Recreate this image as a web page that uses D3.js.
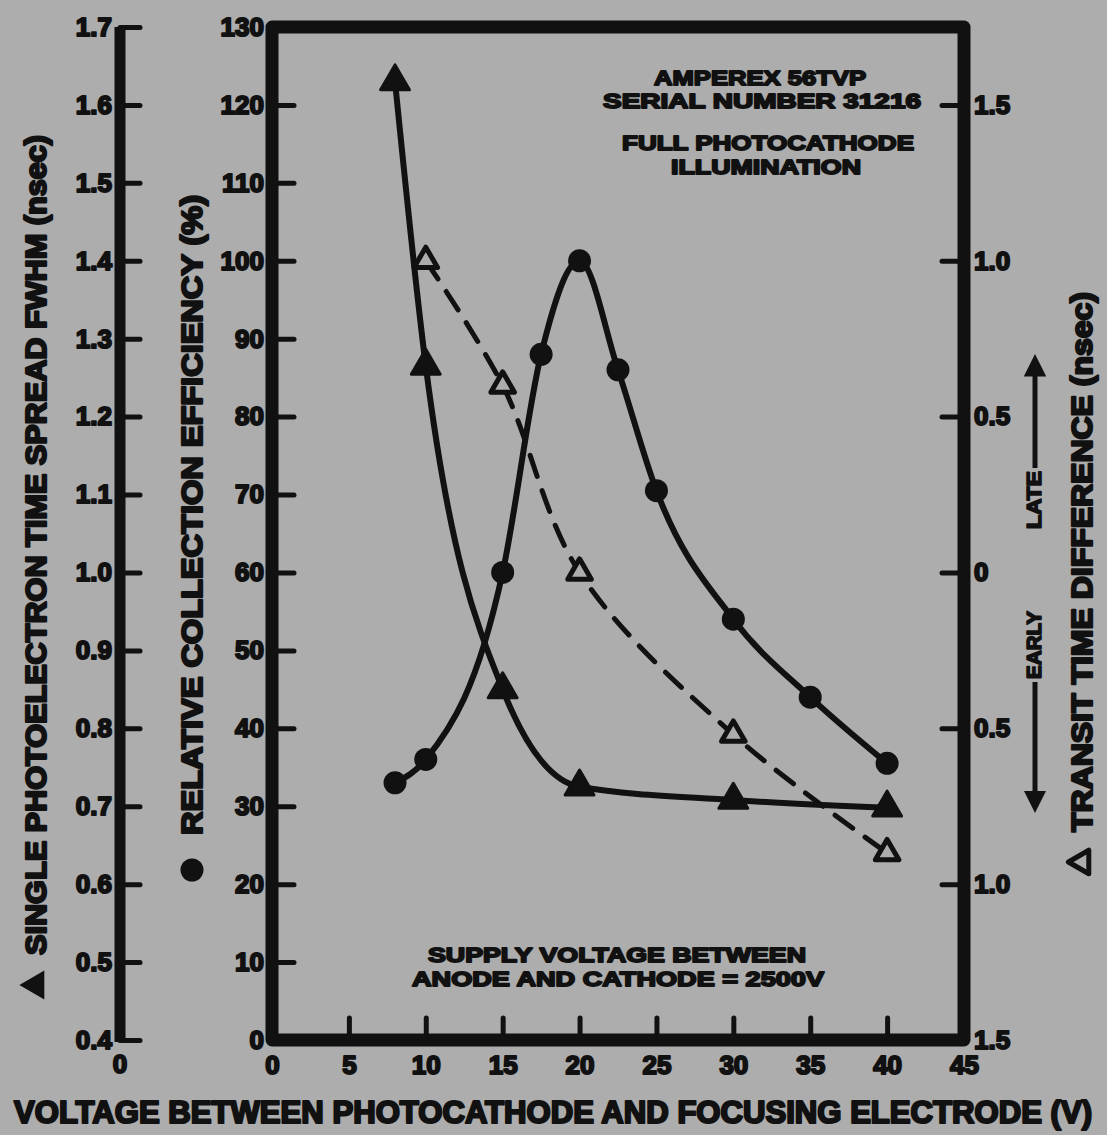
<!DOCTYPE html>
<html>
<head>
<meta charset="utf-8">
<script src="https://cdn.jsdelivr.net/npm/d3@7"></script>
<style>
  html, body { margin: 0; padding: 0; background: #adadad; }
  svg { display: block; }
  .ink { font-family: "Liberation Sans", Arial, sans-serif; font-weight: bold; fill: #111; stroke: #111; stroke-linejoin: round; }
</style>
</head>
<body>
<div id="chart"></div>
<script>
// voltage between photocathode and focusing electrode (V)
const effVolts = [8, 10, 15, 17.5, 20, 22.5, 25, 30, 35, 40];
const effPct = [33, 36, 60, 88, 100, 86, 70.5, 54, 44, 35.5];

const fwhmVolts = [8, 10, 15, 20, 30, 40];
const fwhmNs = [1.63, 1.265, 0.85, 0.725, 0.708, 0.698];

const transitVolts = [10, 15, 20, 30, 40];
const transitNs = [1.0, 0.6, 0.0, -0.52, -0.9];

const xTicks = [0, 5, 10, 15, 20, 25, 30, 35, 40, 45];
const effTicks = d3.range(0, 131, 10);
const fwhmTicks = [0.4, 0.5, 0.6, 0.7, 0.8, 0.9, 1.0, 1.1, 1.2, 1.3, 1.4, 1.5, 1.6, 1.7];
const transitTicks = [-1.5, -1.0, -0.5, 0, 0.5, 1.0, 1.5];

const width = 1107, height = 1135;
const ink = "#111";
const bg = "#adadad";

const svg = d3.select("#chart").append("svg")
    .attr("width", width)
    .attr("height", height)
    .attr("viewBox", [0, 0, width, height]);

svg.append("rect").attr("width", width).attr("height", height).attr("fill", bg);

// plot frame
const plotL = 272, plotR = 964, plotT = 27, plotB = 1040;
const leftAxisX = 120;

const x = d3.scaleLinear().domain([0, 45]).range([plotL, plotR]);
const yEff = d3.scaleLinear().domain([0, 130]).range([plotB, plotT]);
const yFwhm = d3.scaleLinear().domain([0.4, 1.7]).range([plotB, plotT]);
const yTransit = d3.scaleLinear().domain([-1.5, 1.75]).range([plotB, plotT]);

function styleAxis(g) {
    g.select(".domain").remove();
    g.selectAll(".tick line").attr("stroke", ink).attr("stroke-width", 5).attr("stroke-linecap", "round");
    g.selectAll(".tick text")
        .attr("class", "ink")
        .attr("fill", null)
        .style("font-size", "26px")
        .style("stroke-width", "2px");
}

// x axis, ticks inward
const xAxis = svg.append("g")
    .attr("transform", `translate(0,${plotB})`)
    .call(d3.axisBottom(x).tickValues(xTicks).tickSizeInner(-22).tickSizeOuter(0).tickPadding(16).tickFormat(d3.format("d")));
styleAxis(xAxis);

// efficiency axis (frame left)
const effAxis = svg.append("g")
    .attr("transform", `translate(${plotL},0)`)
    .call(d3.axisLeft(yEff).tickValues(effTicks).tickSizeInner(-22).tickSizeOuter(0).tickPadding(8).tickFormat(d3.format("d")));
styleAxis(effAxis);

// transit time axis (frame right)
const trAxis = svg.append("g")
    .attr("transform", `translate(${plotR},0)`)
    .call(d3.axisRight(yTransit).tickValues(transitTicks).tickSizeInner(-22).tickSizeOuter(0).tickPadding(10)
        .tickFormat(d => d === 0 ? "0" : d3.format(".1f")(Math.abs(d))));
styleAxis(trAxis);

// FWHM axis, separate line on the far left
const fwAxis = svg.append("g")
    .attr("transform", `translate(${leftAxisX},0)`)
    .call(d3.axisLeft(yFwhm).tickValues(fwhmTicks).tickSizeInner(-20).tickSizeOuter(0).tickPadding(8).tickFormat(d3.format(".1f")));
styleAxis(fwAxis);
svg.append("line")
    .attr("x1", leftAxisX).attr("x2", leftAxisX)
    .attr("y1", plotT).attr("y2", plotB + 2)
    .attr("stroke", ink).attr("stroke-width", 11);

svg.append("text").attr("class", "ink")
    .attr("x", leftAxisX).attr("y", plotB + 33)
    .attr("text-anchor", "middle")
    .style("font-size", "26px").style("stroke-width", "2px")
    .text("0");

// frame
svg.append("rect")
    .attr("x", plotL).attr("y", plotT)
    .attr("width", plotR - plotL).attr("height", plotB - plotT)
    .attr("fill", "none").attr("stroke", ink)
    .attr("stroke-width", 13).attr("stroke-linejoin", "round");

// curves
const effData = effVolts.map((v, i) => ({ x: v, y: effPct[i] }));
const fwhmData = fwhmVolts.map((v, i) => ({ x: v, y: fwhmNs[i] }));
const trData = transitVolts.map((v, i) => ({ x: v, y: transitNs[i] }));

const plot = svg.append("g");

plot.append("path")
    .datum(trData)
    .attr("fill", "none").attr("stroke", ink).attr("stroke-width", 5)
    .attr("stroke-dasharray", "22,15").attr("stroke-linecap", "round")
    .attr("d", d3.line().x(d => x(d.x)).y(d => yTransit(d.y)).curve(d3.curveCatmullRom.alpha(0.5)));

plot.append("path")
    .datum(fwhmData)
    .attr("fill", "none").attr("stroke", ink).attr("stroke-width", 6)
    .attr("d", d3.line().x(d => x(d.x)).y(d => yFwhm(d.y)).curve(d3.curveMonotoneX));

plot.append("path")
    .datum(effData)
    .attr("fill", "none").attr("stroke", ink).attr("stroke-width", 6)
    .attr("d", d3.line().x(d => x(d.x)).y(d => yEff(d.y)).curve(d3.curveMonotoneX));

const triFilled = d3.symbol().type(d3.symbolTriangle).size(360);
const triOpen = d3.symbol().type(d3.symbolTriangle).size(240);

plot.selectAll("path.tr").data(trData).join("path")
    .attr("class", "tr")
    .attr("transform", d => `translate(${x(d.x)},${yTransit(d.y)})`)
    .attr("d", triOpen())
    .attr("fill", bg).attr("stroke", ink).attr("stroke-width", 5).attr("stroke-linejoin", "round");

plot.selectAll("path.fw").data(fwhmData).join("path")
    .attr("class", "fw")
    .attr("transform", d => `translate(${x(d.x)},${yFwhm(d.y)})`)
    .attr("d", triFilled())
    .attr("fill", ink).attr("stroke", ink).attr("stroke-width", 3).attr("stroke-linejoin", "round");

plot.selectAll("circle.eff").data(effData).join("circle")
    .attr("class", "eff")
    .attr("cx", d => x(d.x)).attr("cy", d => yEff(d.y))
    .attr("r", 11.5).attr("fill", ink);

// text helpers
function label(sel, txt, px, py, size, opts = {}) {
    const t = sel.append("text").attr("class", "ink")
        .attr("transform", `translate(${px},${py})` + (opts.rotate ? ` rotate(${opts.rotate})` : ""))
        .attr("text-anchor", opts.anchor || "middle")
        .attr("dominant-baseline", "central")
        .style("font-size", size + "px")
        .style("stroke-width", (opts.sw || 1.8) + "px")
        .text(txt);
    if (opts.len) t.attr("textLength", opts.len).attr("lengthAdjust", "spacingAndGlyphs");
    return t;
}

// annotations inside plot
label(svg, "AMPEREX 56TVP", 760, 77, 21, { len: 212 });
label(svg, "SERIAL NUMBER 31216", 762, 100, 21, { len: 318 });
label(svg, "FULL PHOTOCATHODE", 768, 142, 21, { len: 292 });
label(svg, "ILLUMINATION", 766, 166, 21, { len: 190 });

label(svg, "SUPPLY VOLTAGE BETWEEN", 617, 954, 21, { len: 378 });
label(svg, "ANODE AND CATHODE = 2500V", 618, 978, 21, { len: 412 });

// x title
label(svg, "VOLTAGE BETWEEN PHOTOCATHODE AND FOCUSING ELECTRODE (V)", 553, 1112, 31, { len: 1078, sw: 2.2 });

// left title with filled triangle legend
svg.append("path")
    .attr("transform", "translate(36,985) rotate(-90)")
    .attr("d", triFilled()).attr("fill", ink);
label(svg, "SINGLE PHOTOELECTRON TIME SPREAD FWHM (nsec)", 36, 545, 29, { rotate: -90, len: 820, sw: 2.2 });

// efficiency title with circle legend
svg.append("circle").attr("cx", 192).attr("cy", 870).attr("r", 11.5).attr("fill", ink);
label(svg, "RELATIVE COLLECTION EFFICIENCY (%)", 192, 515, 29, { rotate: -90, len: 640, sw: 2.2 });

// right title with open triangle legend
svg.append("path")
    .attr("transform", "translate(1082,862) rotate(-90)")
    .attr("d", triOpen())
    .attr("fill", bg).attr("stroke", ink).attr("stroke-width", 5).attr("stroke-linejoin", "round");
label(svg, "TRANSIT TIME DIFFERENCE (nsec)", 1082, 562, 29, { rotate: -90, len: 540, sw: 2.2 });

// LATE / EARLY arrows
svg.append("defs").append("marker")
    .attr("id", "head")
    .attr("viewBox", "0 0 10 10")
    .attr("refX", 2).attr("refY", 5)
    .attr("markerWidth", 4.5).attr("markerHeight", 4.5)
    .attr("orient", "auto")
    .append("path").attr("d", "M0,0 L10,5 L0,10 Z").attr("fill", ink);

label(svg, "LATE", 1034, 500, 20, { rotate: -90, len: 58, sw: 1.6 });
svg.append("line")
    .attr("x1", 1035).attr("x2", 1035).attr("y1", 468).attr("y2", 372)
    .attr("stroke", ink).attr("stroke-width", 5).attr("marker-end", "url(#head)");

label(svg, "EARLY", 1034, 645, 20, { rotate: -90, len: 68, sw: 1.6 });
svg.append("line")
    .attr("x1", 1035).attr("x2", 1035).attr("y1", 682).attr("y2", 795)
    .attr("stroke", ink).attr("stroke-width", 5).attr("marker-end", "url(#head)");
</script>
</body>
</html>
